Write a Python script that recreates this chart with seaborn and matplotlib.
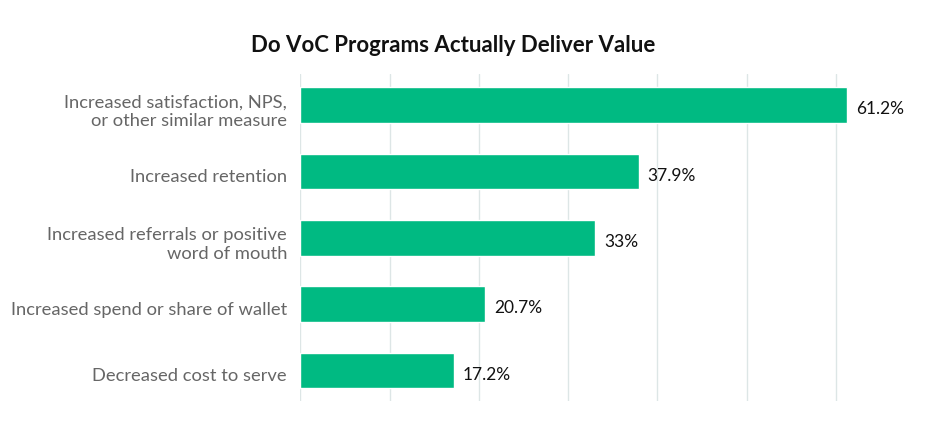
import matplotlib
matplotlib.use("Agg")
import matplotlib.pyplot as plt
import matplotlib.transforms as mtransforms
import seaborn as sns
import pandas as pd

categories = [
    "Increased satisfaction, NPS,\nor other similar measure",
    "Increased retention",
    "Increased referrals or positive\nword of mouth",
    "Increased spend or share of wallet",
    "Decreased cost to serve",
]
values = [61.2, 37.9, 33.0, 20.7, 17.2]
value_labels = ["61.2%", "37.9%", "33%", "20.7%", "17.2%"]
title = "Do VoC Programs Actually Deliver Value"

sns.set_theme(style="white")
plt.rcParams["font.family"] = ["Lato", "DejaVu Sans"]

df = pd.DataFrame({"category": categories, "value": values})

fig = plt.figure(figsize=(9.26, 4.28), dpi=100)
ax = fig.add_axes([300.3 / 926, 1 - 401 / 428, (925.3 - 300.3) / 926, (401 - 74) / 428])

sns.barplot(data=df, y="category", x="value", color="#00BA82", saturation=1,
            width=0.54, ax=ax, orient="h")

ax.set_xlim(0, 70)
ax.set_ylim(4.46, -0.47)
ax.set_xticks(range(0, 70, 10))
ax.grid(axis="x", color="#dde6e6", linewidth=1)
ax.set_axisbelow(True)
for s in ax.spines.values():
    s.set_visible(False)
ax.set_xticklabels([])
ax.tick_params(axis="x", length=0)
ax.tick_params(axis="y", length=0, pad=9.5)
ax.set_xlabel("")
ax.set_ylabel("")
shift = mtransforms.ScaledTranslation(0, -3 / 72, fig.dpi_scale_trans)
for lab in ax.get_yticklabels():
    lab.set_fontsize(13.25)
    lab.set_color("#666666")
    lab.set_horizontalalignment("right")
    lab.set_multialignment("right")
    lab.set_transform(lab.get_transform() + shift)

for i, (v, t) in enumerate(zip(values, value_labels)):
    ax.annotate(t, xy=(v, i), xytext=(6.5, -3), textcoords="offset points",
                va="center", ha="left", fontsize=12.5, color="#111111")

fig.text(453 / 926, 1 - 45 / 428, title, ha="center", va="center",
         fontsize=16, fontweight="bold", color="#111111")

fig.savefig("out.png", dpi=100)
